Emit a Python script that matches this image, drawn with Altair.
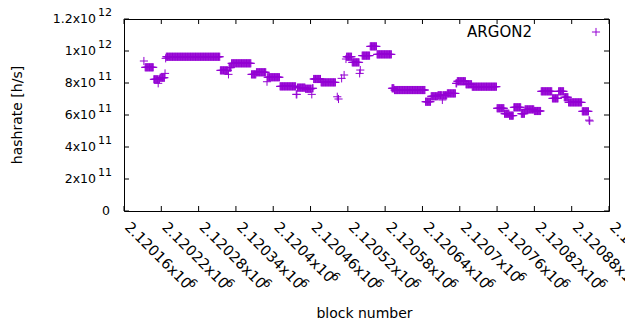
import altair as alt
import pandas as pd

# Runs of consecutive blocks that share the same estimated hashrate (x10^12 h/s)
run_start = [2120192, 2120194, 2120208, 2120215, 2120216, 2120218, 2120226, 2120227, 2120228,
             2120315, 2120328, 2120329, 2120333, 2120365, 2120373, 2120390, 2120391, 2120411,
             2120437, 2120439, 2120452, 2120462, 2120463, 2120465, 2120477, 2120503, 2120505,
             2120510, 2120514, 2120517, 2120518, 2120527, 2120539, 2120540, 2120543, 2120556,
             2120567, 2120591, 2120595, 2120645, 2120654, 2120665, 2120672, 2120673, 2120680,
             2120694, 2120696, 2120710, 2120720, 2120760, 2120772, 2120780, 2120787, 2120799,
             2120805, 2120820, 2120831, 2120849, 2120859, 2120868, 2120875, 2120897, 2120908,
             2120909]
run_end = [2120192, 2120207, 2120214, 2120215, 2120217, 2120225, 2120226, 2120227, 2120314,
           2120327, 2120328, 2120332, 2120364, 2120372, 2120388, 2120390, 2120410, 2120436,
           2120438, 2120451, 2120461, 2120462, 2120464, 2120476, 2120500, 2120503, 2120505,
           2120510, 2120514, 2120517, 2120526, 2120538, 2120539, 2120540, 2120555, 2120566,
           2120590, 2120594, 2120644, 2120653, 2120664, 2120671, 2120672, 2120679, 2120693,
           2120695, 2120709, 2120719, 2120759, 2120771, 2120779, 2120786, 2120798, 2120804,
           2120819, 2120830, 2120848, 2120858, 2120867, 2120874, 2120896, 2120907, 2120908,
           2120909]
run_value = [0.9375, 0.898, 0.823, 0.798, 0.823, 0.833, 0.86, 0.954, 0.964,
             0.879, 0.854, 0.896, 0.923, 0.854, 0.867, 0.808, 0.836, 0.779,
             0.729, 0.771, 0.764, 0.729, 0.767, 0.825, 0.804, 0.714, 0.70,
             0.829, 0.85, 0.95, 0.964, 0.929, 0.86, 0.881, 0.971, 1.029,
             0.979, 0.767, 0.756, 0.683, 0.717, 0.723, 0.694, 0.723, 0.735,
             0.798, 0.811, 0.792, 0.777, 0.642, 0.608, 0.596, 0.648, 0.608,
             0.635, 0.625, 0.748, 0.704, 0.748, 0.711, 0.679, 0.623, 0.568,
             0.5625]

x_ticks = [2120160, 2120220, 2120280, 2120340, 2120400, 2120460, 2120520,
           2120580, 2120640, 2120700, 2120760, 2120820, 2120880, 2120940]
x_tick_base = ["2.12016x10", "2.12022x10", "2.12028x10", "2.12034x10", "2.1204x10",
               "2.12046x10", "2.12052x10", "2.12058x10", "2.12064x10", "2.1207x10",
               "2.12076x10", "2.12082x10", "2.12088x10", "2.12094x10"]
x_tick_exp = ["6"] * 14

y_ticks = [0, 2e11, 4e11, 6e11, 8e11, 1e12, 1.2e12]
y_tick_base = ["0", "2x10", "4x10", "6x10", "8x10", "1x10", "1.2x10"]
y_tick_exp = ["", "11", "11", "11", "11", "12", "12"]

series_name = "ARGON2"
x_title = "block number"
y_title = "hashrate [h/s]"

blocks, rates = [], []
for s, e, v in zip(run_start, run_end, run_value):
    for b in range(s, e + 1):
        blocks.append(b)
        rates.append(v * 1e12)
df = pd.DataFrame({"block": blocks, "hashrate": rates})
xt = pd.DataFrame({"tick": x_ticks, "base": x_tick_base, "exp": x_tick_exp})
yt = pd.DataFrame({"tick": y_ticks, "base": y_tick_base, "exp": y_tick_exp})
one = pd.DataFrame({"name": [series_name], "xt": [x_title], "yt": [y_title]})

W, H = 485, 192
COLOR = "#9400d3"
PLUS = "M-1,0L1,0M0,-1L0,1"
FONT = "DejaVu Sans"
XF = 14.5   # x tick label font
XE = 11.5   # x exponent font
YF = 12.5   # y tick label font
YE = 11     # y exponent font

xs = alt.Scale(domain=[2120160, 2120940], nice=False, zero=False)
ys = alt.Scale(domain=[0, 1.2e12], nice=False, zero=False)
X = alt.X("tick:Q", scale=xs, axis=None)
Y = alt.Y("tick:Q", scale=ys, axis=None)

points = alt.Chart(df).mark_point(
    shape=PLUS, size=66, filled=False, strokeWidth=1, color=COLOR, opacity=1
).encode(
    x=alt.X("block:Q", scale=xs, axis=None),
    y=alt.Y("hashrate:Q", scale=ys, axis=None),
)

xtick_b = alt.Chart(xt).mark_rule(color="black", strokeWidth=1).encode(
    x=X, y=alt.value(H), y2=alt.value(H - 5))
xtick_t = alt.Chart(xt).mark_rule(color="black", strokeWidth=1).encode(
    x=X, y=alt.value(0), y2=alt.value(5))
ytick_l = alt.Chart(yt).mark_rule(color="black", strokeWidth=1).encode(
    y=Y, x=alt.value(0), x2=alt.value(5))
ytick_r = alt.Chart(yt).mark_rule(color="black", strokeWidth=1).encode(
    y=Y, x=alt.value(W), x2=alt.value(W - 5))

XLY = H + 17
xlab = alt.Chart(xt).mark_text(
    angle=45, align="left", baseline="alphabetic", font=FONT, fontSize=XF, color="black"
).encode(x=X, y=alt.value(XLY), text="base:N")
xexp_long = alt.Chart(xt).transform_filter("length(datum.base) == 10").mark_text(
    angle=45, align="left", baseline="alphabetic", font=FONT, fontSize=XE, color="black",
    dx=84, dy=-6
).encode(x=X, y=alt.value(XLY), text="exp:N")
xexp_short = alt.Chart(xt).transform_filter("length(datum.base) == 9").mark_text(
    angle=45, align="left", baseline="alphabetic", font=FONT, fontSize=XE, color="black",
    dx=75, dy=-6
).encode(x=X, y=alt.value(XLY), text="exp:N")

ylab = alt.Chart(yt).transform_filter("datum.exp != ''").mark_text(
    align="right", baseline="middle", font=FONT, fontSize=YF, color="black"
).encode(y=Y, x=alt.value(-28), text="base:N")
yexp = alt.Chart(yt).transform_filter("datum.exp != ''").mark_text(
    align="right", baseline="middle", font=FONT, fontSize=YE, color="black", dy=-6
).encode(y=Y, x=alt.value(-12), text="exp:N")
yzero = alt.Chart(yt).transform_filter("datum.exp == ''").mark_text(
    align="right", baseline="middle", font=FONT, fontSize=YF, color="black"
).encode(y=Y, x=alt.value(-14), text="base:N")

ytitle = alt.Chart(one).mark_text(
    angle=270, align="center", baseline="middle", font=FONT, fontSize=14, color="black"
).encode(x=alt.value(-106.5), y=alt.value(H / 2), text="yt:N")
xtitle = alt.Chart(one).mark_text(
    align="center", baseline="middle", font=FONT, fontSize=14, color="black"
).encode(x=alt.value(W / 2 - 2), y=alt.value(295), text="xt:N")

leg_text = alt.Chart(one).mark_text(
    align="right", baseline="middle", font=FONT, fontSize=15, color="black"
).encode(x=alt.value(408), y=alt.value(12.5), text="name:N")
leg_sym = alt.Chart(one).mark_point(
    shape=PLUS, size=66, filled=False, strokeWidth=1, color=COLOR, opacity=1
).encode(x=alt.value(472), y=alt.value(13))

chart = alt.layer(
    points, xtick_b, xtick_t, ytick_l, ytick_r,
    xlab, xexp_long, xexp_short, ylab, yexp, yzero,
    ytitle, xtitle, leg_text, leg_sym
).properties(
    width=W, height=H,
    autosize=alt.AutoSizeParams(type="none"),
    padding={"left": 116, "top": 11, "right": 16, "bottom": 111},
    background="white",
).configure_view(stroke="black", strokeWidth=1)

chart.save("out.html", embed_options={"renderer": "svg", "actions": False})
